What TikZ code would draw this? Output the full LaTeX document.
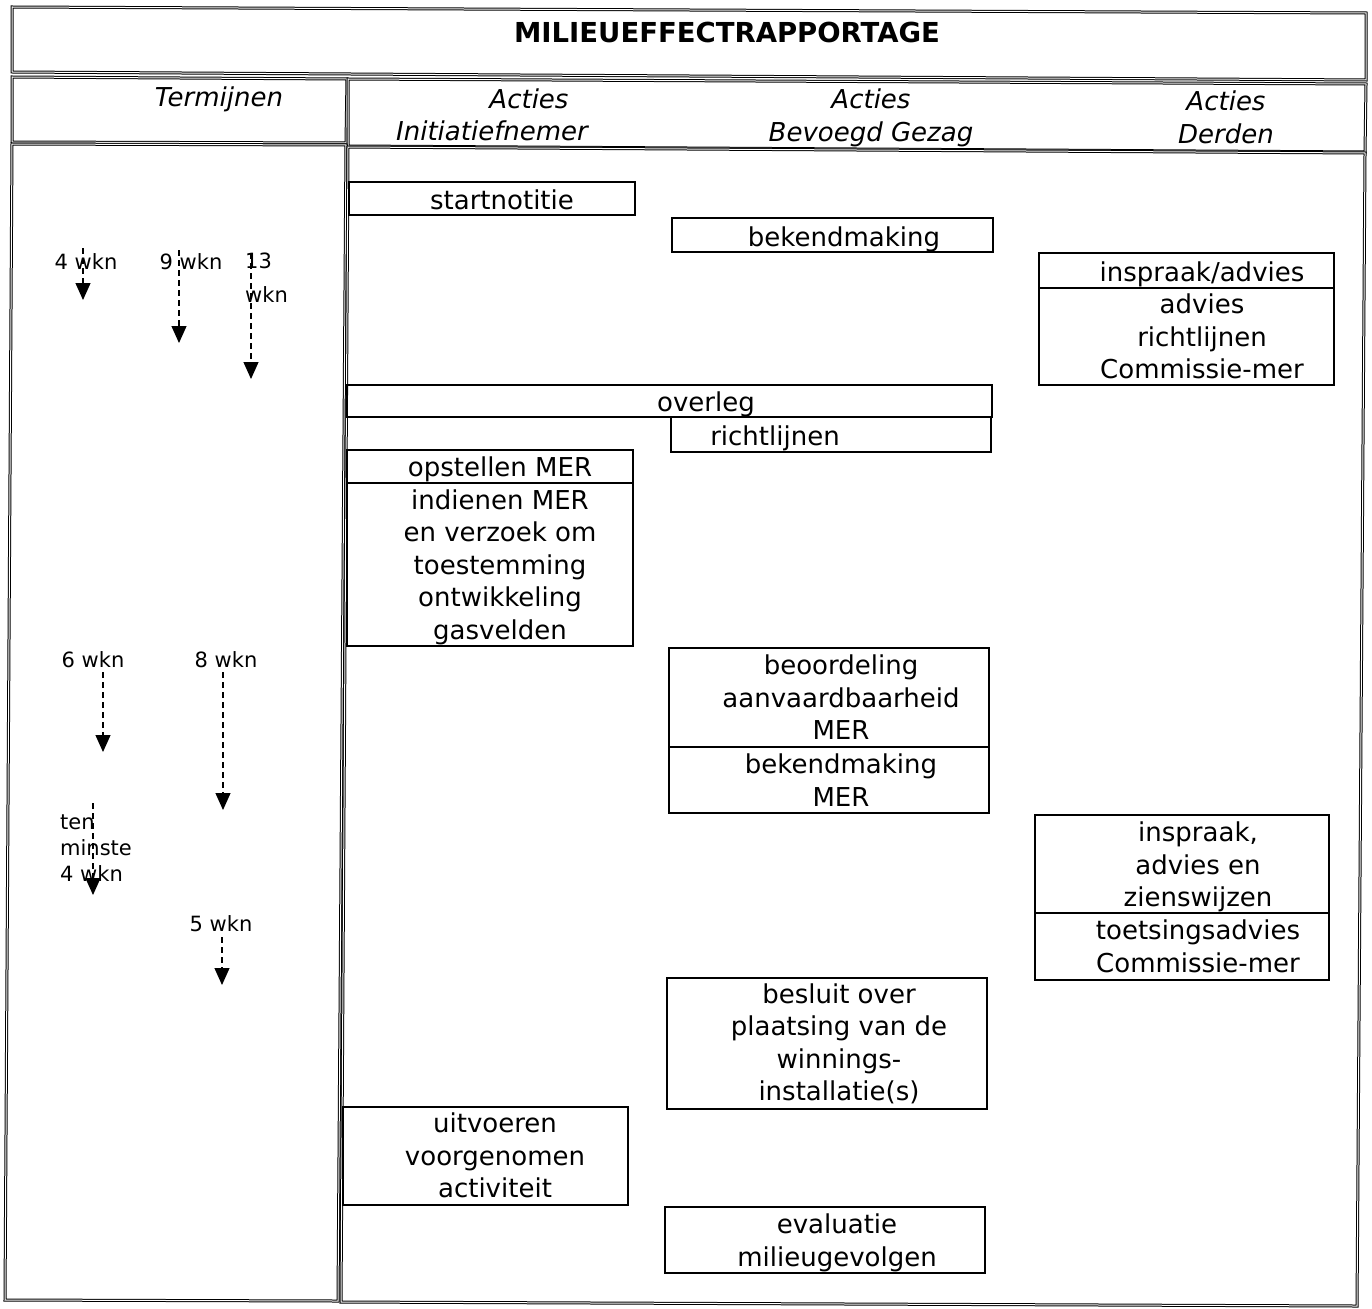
\documentclass[tikz,border=0pt]{standalone}
\usepackage{fontspec}
\setmainfont{DejaVu Sans}
\usetikzlibrary{arrows.meta,fit}
\begin{document}
\begin{tikzpicture}[x=1pt,y=-1pt,
  frame/.style={double, double distance=1pt, line width=1pt},
  box/.style={draw, line width=1.3pt, inner sep=0pt},
  txt/.style={align=center, inner sep=0pt, yshift=-3pt, font=\fontsize{26}{32.5}\selectfont,
    execute at begin node=\strut, execute at end node=\strut},
  hdr/.style={txt, font=\fontsize{26}{32.5}\selectfont\itshape},
  lbl/.style={inner sep=0pt, yshift=-3pt, font=\fontsize{21}{26}\selectfont,
    execute at begin node=\strut, execute at end node=\strut},
  darrow/.style={line width=1.2pt, dash pattern=on 6pt off 4pt,
    -{Triangle[length=17pt,width=15pt]}}]
\useasboundingbox (0,0) rectangle (1372,1308);
\fill[white] (0,0) rectangle (1372,1308);

% frames
\draw[frame] (12,7) -- (1366,13) -- (1366,80) -- (12,72) -- cycle;
\draw[frame] (12,77) -- (347,79) -- (346,143) -- (12,142) -- cycle;
\draw[frame] (348,79) -- (1366,84) -- (1365,152) -- (348,146) -- cycle;
\draw[frame] (12,144) -- (346,145) -- (338,1301) -- (5,1300) -- cycle;
\draw[frame] (348,147) -- (1365,153) -- (1357,1306) -- (341,1302) -- cycle;

% title and headers
\node[inner sep=0pt, font=\fontsize{27.5}{33}\selectfont\bfseries] (title) at (727,32) {MILIEUEFFECTRAPPORTAGE};
\node[hdr] (hterm) at (219,97) {Termijnen};
\node[hdr] (hini1) at (529,99) {Acties};
\node[hdr] (hini2) at (492,131) {Initiatiefnemer};
\node[hdr] (hbev) at (871,117) {Acties\\Bevoegd Gezag};
\node[hdr] (hder) at (1226,119) {Acties\\Derden};

% boxes
\node[box, fit={(349,182) (635,215)}] (bstart) {};
\node[txt] (tstart) at (502,200) {startnotitie};
\node[box, fit={(672,218) (993,252)}] (bbek) {};
\node[txt] (tbek) at (844,237) {bekendmaking};
\node[box, fit={(1039,253) (1334,288)}] (binsp) {};
\node[txt] (tinsp) at (1202,272) {inspraak/advies};
\node[box, fit={(1039,288) (1334,385)}] (badv) {};
\node[txt] (tadv) at (1202,338) {advies\\richtlijnen\\Commissie-mer};
\node[box, fit={(347,385) (992,417)}] (bover) {};
\node[txt] (tover) at (706,402) {overleg};
\node[box, fit={(671,417) (991,452)}] (bricht) {};
\node[txt] (tricht) at (775,436) {richtlijnen};
\node[box, fit={(347,450) (633,483)}] (bopst) {};
\node[txt] (topst) at (500,467) {opstellen MER};
\node[box, fit={(347,483) (633,646)}] (bind) {};
\node[txt] (tind) at (500,566) {indienen MER\\en verzoek om\\toestemming\\ontwikkeling\\gasvelden};
\node[box, fit={(669,648) (989,747)}] (bbeo) {};
\node[txt] (tbeo) at (841,699) {beoordeling\\aanvaardbaarheid\\MER};
\node[box, fit={(669,747) (989,813)}] (bbekm) {};
\node[txt] (tbekm) at (841,782) {bekendmaking\\MER};
\node[box, fit={(1035,815) (1329,913)}] (bzien) {};
\node[txt] (tzien) at (1198,866) {inspraak,\\advies en\\zienswijzen};
\node[box, fit={(1035,913) (1329,980)}] (btoets) {};
\node[txt] (ttoets) at (1198,948) {toetsingsadvies\\Commissie-mer};
\node[box, fit={(667,978) (987,1109)}] (bbes) {};
\node[txt] (tbes) at (839,1044) {besluit over\\plaatsing van de\\winnings-\\installatie(s)};
\node[box, fit={(343,1107) (628,1205)}] (buit) {};
\node[txt] (tuit) at (495,1157) {uitvoeren\\voorgenomen\\activiteit};
\node[box, fit={(665,1207) (985,1273)}] (beval) {};
\node[txt] (teval) at (837,1242) {evaluatie\\milieugevolgen};

% termijnen labels
\node[lbl] (l1) at (86,261) {4 wkn};
\node[lbl] (l2) at (191,261) {9 wkn};
\node[lbl, align=left, anchor=west] (l3) at (245,279) {13\\[8pt]wkn};
\node[lbl] (l4) at (93,659) {6 wkn};
\node[lbl] (l5) at (226,659) {8 wkn};
\node[lbl, align=left, anchor=west] (l6) at (60,849) {ten\\minste\\4 wkn};
\node[lbl] (l7) at (221,923) {5 wkn};

% arrows
\coordinate (a1s) at (83,248);  \coordinate (a1e) at (83,300);
\coordinate (a2s) at (179,250); \coordinate (a2e) at (179,343);
\coordinate (a3s) at (251,253); \coordinate (a3e) at (251,379);
\coordinate (a4s) at (103,672); \coordinate (a4e) at (103,752);
\coordinate (a5s) at (223,672); \coordinate (a5e) at (223,810);
\coordinate (a6s) at (93,803);  \coordinate (a6e) at (93,895);
\coordinate (a7s) at (222,937); \coordinate (a7e) at (222,985);
\draw[darrow] (a1s) -- (a1e);
\draw[darrow] (a2s) -- (a2e);
\draw[darrow] (a3s) -- (a3e);
\draw[darrow] (a4s) -- (a4e);
\draw[darrow] (a5s) -- (a5e);
\draw[darrow] (a6s) -- (a6e);
\draw[darrow] (a7s) -- (a7e);
\end{tikzpicture}
\end{document}
